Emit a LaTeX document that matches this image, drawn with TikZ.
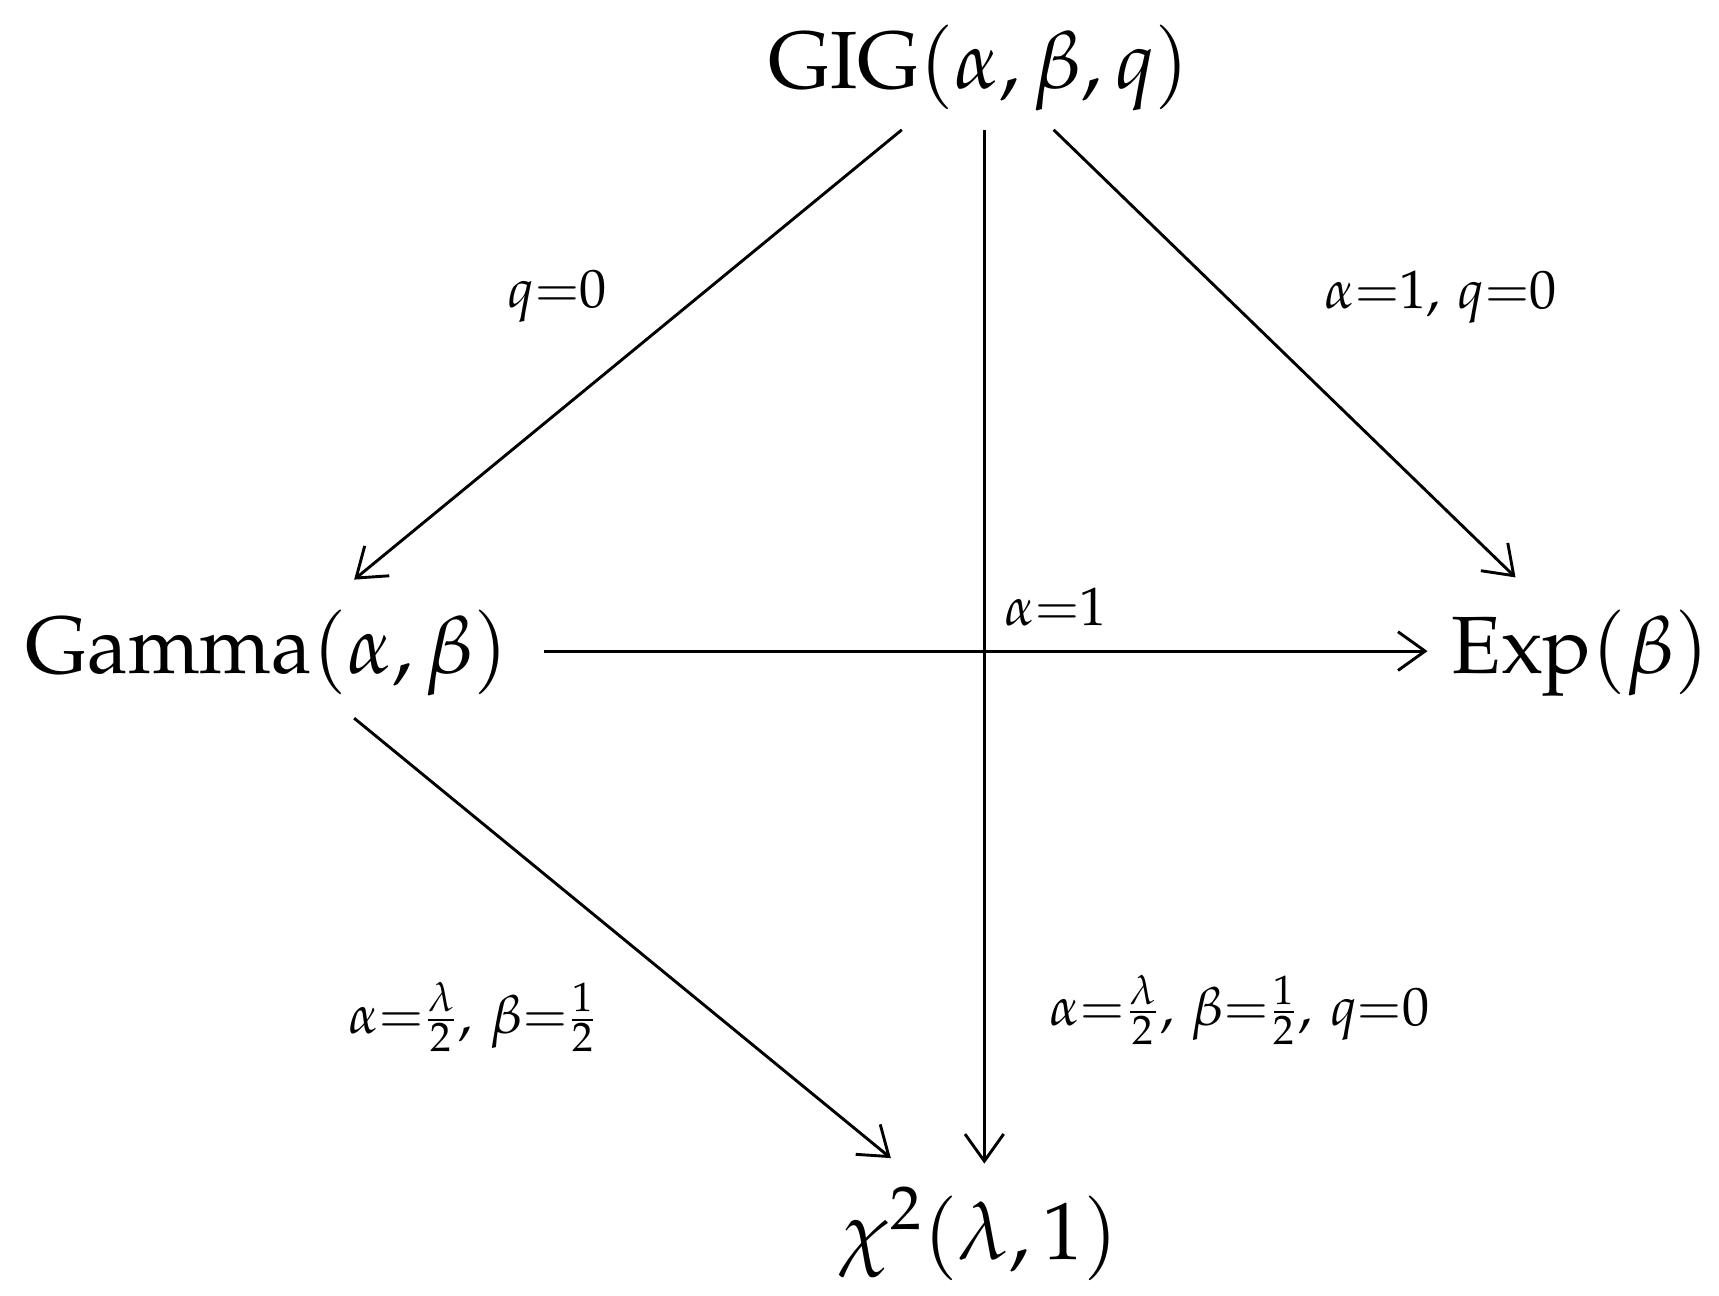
\documentclass[tikz,border=0pt]{standalone}
\usepackage[T1]{fontenc}
\usepackage{mathpazo}
\renewcommand\rmdefault{ppl}
\usetikzlibrary{arrows.meta}
\begin{document}
\begin{tikzpicture}[x=0.01cm,y=-0.01cm,
  big/.style={font=\fontfamily{ppl}\fontsize{21}{25}\selectfont},
  lab/.style={font=\fontsize{14}{17}\selectfont},
  arr/.style={-{Straight Barb[length=7pt,width=10pt]},line width=0.75pt}]
\useasboundingbox (0,0) rectangle (1563,1178);
\node[big] (gig) at (890,62) {GIG$(\alpha,\beta,q)$};
\node[big] (gam) at (243,594) {Gamma$(\alpha,\beta)$};
\node[big] (exp) at (1437,594) {Exp$(\beta)$};
\node[big] (chi) at (890,1122) {$\chi^2(\lambda,1)$};
\coordinate (a1) at (820,118); \coordinate (a2) at (322,527);
\coordinate (b1) at (895,118); \coordinate (b2) at (895,1058);
\coordinate (c1) at (958,118); \coordinate (c2) at (1378,525);
\coordinate (d1) at (495,592); \coordinate (d2) at (1298,592);
\coordinate (e1) at (322,653); \coordinate (e2) at (810,1053);
\draw[arr] (a1) -- (a2);
\draw[arr] (b1) -- (b2);
\draw[arr] (c1) -- (c2);
\draw[arr] (d1) -- (d2);
\draw[arr] (e1) -- (e2);
\node[lab] (l1) at (507,270) {$q{=}0$};
\node[lab] (l2) at (1310,270) {$\alpha{=}1,\,q{=}0$};
\node[lab] (l3) at (960,552) {$\alpha{=}1$};
\node[lab] (l4) at (430,925) {$\alpha{=}\frac{\lambda}{2},\,\beta{=}\frac{1}{2}$};
\node[lab] (l5) at (1127,918) {$\alpha{=}\frac{\lambda}{2},\,\beta{=}\frac{1}{2},\,q{=}0$};
\end{tikzpicture}
\end{document}
